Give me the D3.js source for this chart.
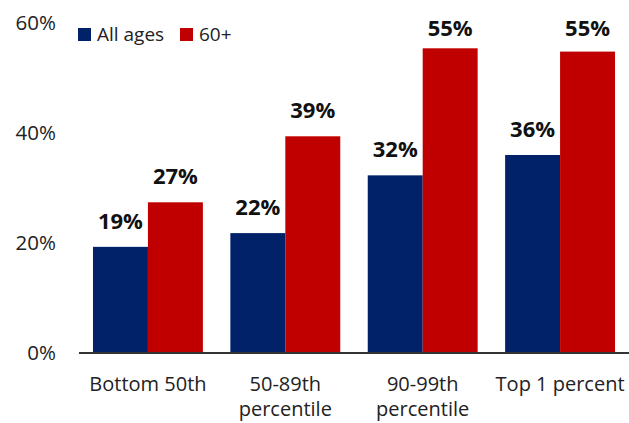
<!DOCTYPE html>
<html><head><meta charset="utf-8">
<script src="https://cdn.jsdelivr.net/npm/d3@7"></script>
<style>body{margin:0;background:#fff}svg{display:block}text{font-family:"Open Sans",sans-serif}</style>
</head><body>
<svg id="c" width="629" height="423"></svg>
<script>
const categories = [["Bottom 50th"], ["50-89th", "percentile"], ["90-99th", "percentile"], ["Top 1 percent"]];
const seriesNames = ["All ages", "60+"];
const allAges = [19.3, 21.8, 32.3, 36.0];
const sixtyPlus = [27.4, 39.4, 55.4, 54.8];
const yTicks = [0, 20, 40, 60];
const colors = ["#012169", "#C00000"];

const svg = d3.select("#c");
const x = d3.scaleBand().domain(d3.range(categories.length)).range([65.5, 642.5]).paddingInner(0.2).paddingOuter(0.2);
const xs = d3.scaleBand().domain([0, 1]).range([0, x.bandwidth()]);
const y = d3.scaleLinear().domain([0, 60]).range([353, 23]);

// y tick labels
svg.append("g").selectAll("text").data(yTicks).join("text")
  .attr("x", 56).attr("y", d => y(d)).attr("dy", "0.36em")
  .attr("text-anchor", "end").attr("font-size", 20.5).attr("fill", "#222")
  .text(d => d + "%");

const series = [allAges, sixtyPlus];
series.forEach((vals, si) => {
  const g = svg.append("g");
  g.selectAll("rect").data(vals).join("rect")
    .attr("x", (d, i) => x(i) + xs(si)).attr("width", xs.bandwidth())
    .attr("y", d => y(d)).attr("height", d => y(0) - y(d))
    .attr("fill", colors[si]);
  g.selectAll("text").data(vals).join("text")
    .attr("x", (d, i) => x(i) + xs(si) + xs.bandwidth() / 2)
    .attr("y", d => Math.max(36, y(d) - 18))
    .attr("text-anchor", "middle").attr("font-size", 22).attr("font-weight", "bold").attr("fill", "#111")
    .text(d => Math.round(d) + "%");
});

// axis line
svg.append("line").attr("x1", 79).attr("x2", 629).attr("y1", y(0)).attr("y2", y(0))
  .attr("stroke", "#333").attr("stroke-width", 2);

// category labels (one text per line)
const lines = [];
categories.forEach((c, i) => c.forEach((t, li) => lines.push({ i, li, t })));
svg.append("g").selectAll("text").data(lines).join("text")
  .attr("x", d => x(d.i) + x.bandwidth() / 2).attr("y", d => 390.5 + d.li * 25)
  .attr("text-anchor", "middle").attr("font-size", 20).attr("fill", "#222")
  .text(d => d.t);

// legend
const legX = [78, 180];
const lg = svg.append("g").selectAll("g").data(seriesNames).join("g")
  .attr("transform", (d, i) => `translate(${legX[i]},28)`);
lg.append("rect").attr("width", 13).attr("height", 13).attr("fill", (d, i) => colors[i]);
lg.append("text").attr("x", 19).attr("y", 6.5).attr("dy", "0.36em").attr("font-size", 19).attr("fill", "#222").text(d => d);
</script>
</body></html>
